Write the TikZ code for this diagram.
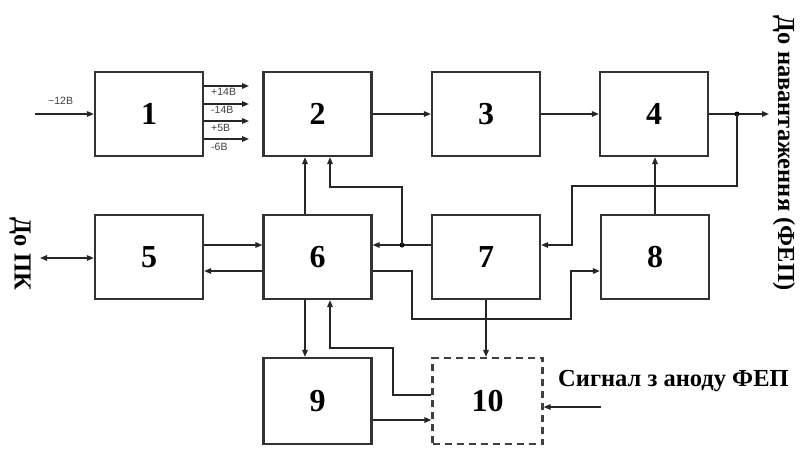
\documentclass[tikz,border=0pt]{standalone}
\usepackage{fontspec}
\setmainfont{Liberation Serif}
\newfontfamily\smallsans{Liberation Sans}
\usetikzlibrary{arrows.meta,calc}
\begin{document}
\begin{tikzpicture}[x=1pt,y=-1pt,
 blk/.style={draw=black!80,line width=2.2pt,minimum width=108pt,minimum height=84pt,inner sep=0pt,font=\fontsize{32}{32}\selectfont\bfseries},
 con/.style={line width=1.5pt,draw=black!85},
 arr/.style={con,-{Triangle[length=7pt,width=5.5pt]}},
 jdot/.style={circle,fill=black,inner sep=0pt,minimum size=5pt},
 lbl/.style={font=\smallsans\fontsize{10.5}{10.5}\selectfont,inner sep=0pt,anchor=west,text=black!75},
 big/.style={font=\fontsize{24.5}{24.5}\selectfont\bfseries,inner sep=0pt}]
\useasboundingbox[fill=white] (0,0) rectangle (800,448);
% blocks
\node[blk] (b1) at (149,114) {1};
\node[blk] (b2) at (317.5,114) {2};
\node[blk] (b3) at (486,114) {3};
\node[blk] (b4) at (654,114) {4};
\node[blk] (b5) at (149,257) {5};
\node[blk] (b6) at (317.5,257) {6};
\node[blk] (b7) at (486,257) {7};
\node[blk] (b8) at (655,257) {8};
\node[blk,minimum height=86pt] (b9) at (317.5,401) {9};
\node[blk,minimum height=86pt,minimum width=110pt,draw=black!75,dash pattern=on 7pt off 5pt] (b10) at (487.5,401) {10};
% input of 1
\coordinate (in12) at (35,114);
\draw[arr] (in12) -- (b1.west);
\node[lbl] (l12) at (48,101) {\textasciitilde12В};
% outputs of 1
\coordinate (o1) at (249,86);
\coordinate (o2) at (249,104);
\coordinate (o3) at (249,121);
\coordinate (o4) at (249,139);
\draw[arr] (b1.east |- o1) -- (o1);
\draw[arr] (b1.east |- o2) -- (o2);
\draw[arr] (b1.east |- o3) -- (o3);
\draw[arr] (b1.east |- o4) -- (o4);
\node[lbl] (lo1) at (211,92) {+14В};
\node[lbl] (lo2) at (211,110) {-14В};
\node[lbl] (lo3) at (211,128) {+5В};
\node[lbl] (lo4) at (211,147) {-6В};
% top chain
\draw[arr] (b2) -- (b3);
\draw[arr] (b3) -- (b4);
\coordinate (j1) at (737,114);
\coordinate (out) at (769,114);
\draw[con] (b4.east) -- (j1);
\draw[arr] (j1) -- (out);
\node[jdot] (dj1) at (j1) {};
\coordinate (r1) at (737,186);
\coordinate (r2) at (572,186);
\coordinate (r3) at (572,245);
\draw[arr] (j1) -- (r1) -- (r2) -- (r3) -- (b7.east |- r3);
% 8 -> 4
\draw[arr] (b8.north) -- (b4.south -| b8.north);
% 7 -> 6 with junction
\coordinate (j2) at (402,245);
\draw[arr] (b7.west |- j2) -- (b6.east |- j2);
\node[jdot] (dj2) at (j2) {};
\coordinate (s1) at (402,187);
\coordinate (s2) at (330,187);
\draw[arr] (j2) -- (s1) -- (s2) -- (b2.south -| s2);
% 6 -> 2
\draw[arr] ($(b6.north)+(-12.5,0)$) -- ($(b2.south)+(-12.5,0)$);
% 6 -> 8
\coordinate (t1) at (412,271);
\coordinate (t2) at (412,319);
\coordinate (t3) at (571,319);
\coordinate (t4) at (571,271);
\draw[arr] (b6.east |- t1) -- (t1) -- (t2) -- (t3) -- (t4) -- (b8.west |- t4);
% 7 -> 10
\draw[arr] (b7.south) -- (b7.south |- b10.north);
% 6 -> 9
\draw[arr] ($(b6.south)+(-12.5,0)$) -- ($(b9.north)+(-12.5,0)$);
% 10 -> 6
\coordinate (u1) at (393,395);
\coordinate (u2) at (393,348);
\coordinate (u3) at (330,348);
\draw[arr] (b10.west |- u1) -- (u1) -- (u2) -- (u3) -- (b6.south -| u3);
% 9 -> 10
\coordinate (v1) at (400,420);
\draw[arr] (b9.east |- v1) -- (b10.west |- v1);
% signal
\coordinate (sig) at (601,407);
\draw[arr] (sig) -- (b10.east |- sig);
\node[big,anchor=west] (lsig) at (558,381) {Сигнал з аноду ФЕП};
% 5 <-> 6
\coordinate (w1) at (230,245);
\coordinate (w2) at (230,271);
\draw[arr] (b5.east |- w1) -- (b6.west |- w1);
\draw[arr] (b6.west |- w2) -- (b5.east |- w2);
% PC
\coordinate (pc) at (40,258);
\draw[con,{Triangle[length=7pt,width=5.5pt]}-{Triangle[length=7pt,width=5.5pt]}] (pc) -- (b5.west |- pc);
\node[big,rotate=-90] (lpc) at (20,254) {До ПК};
% load
\node[big,rotate=-90] (lload) at (784,153) {До навантаження (ФЕП)};
\end{tikzpicture}
\end{document}
